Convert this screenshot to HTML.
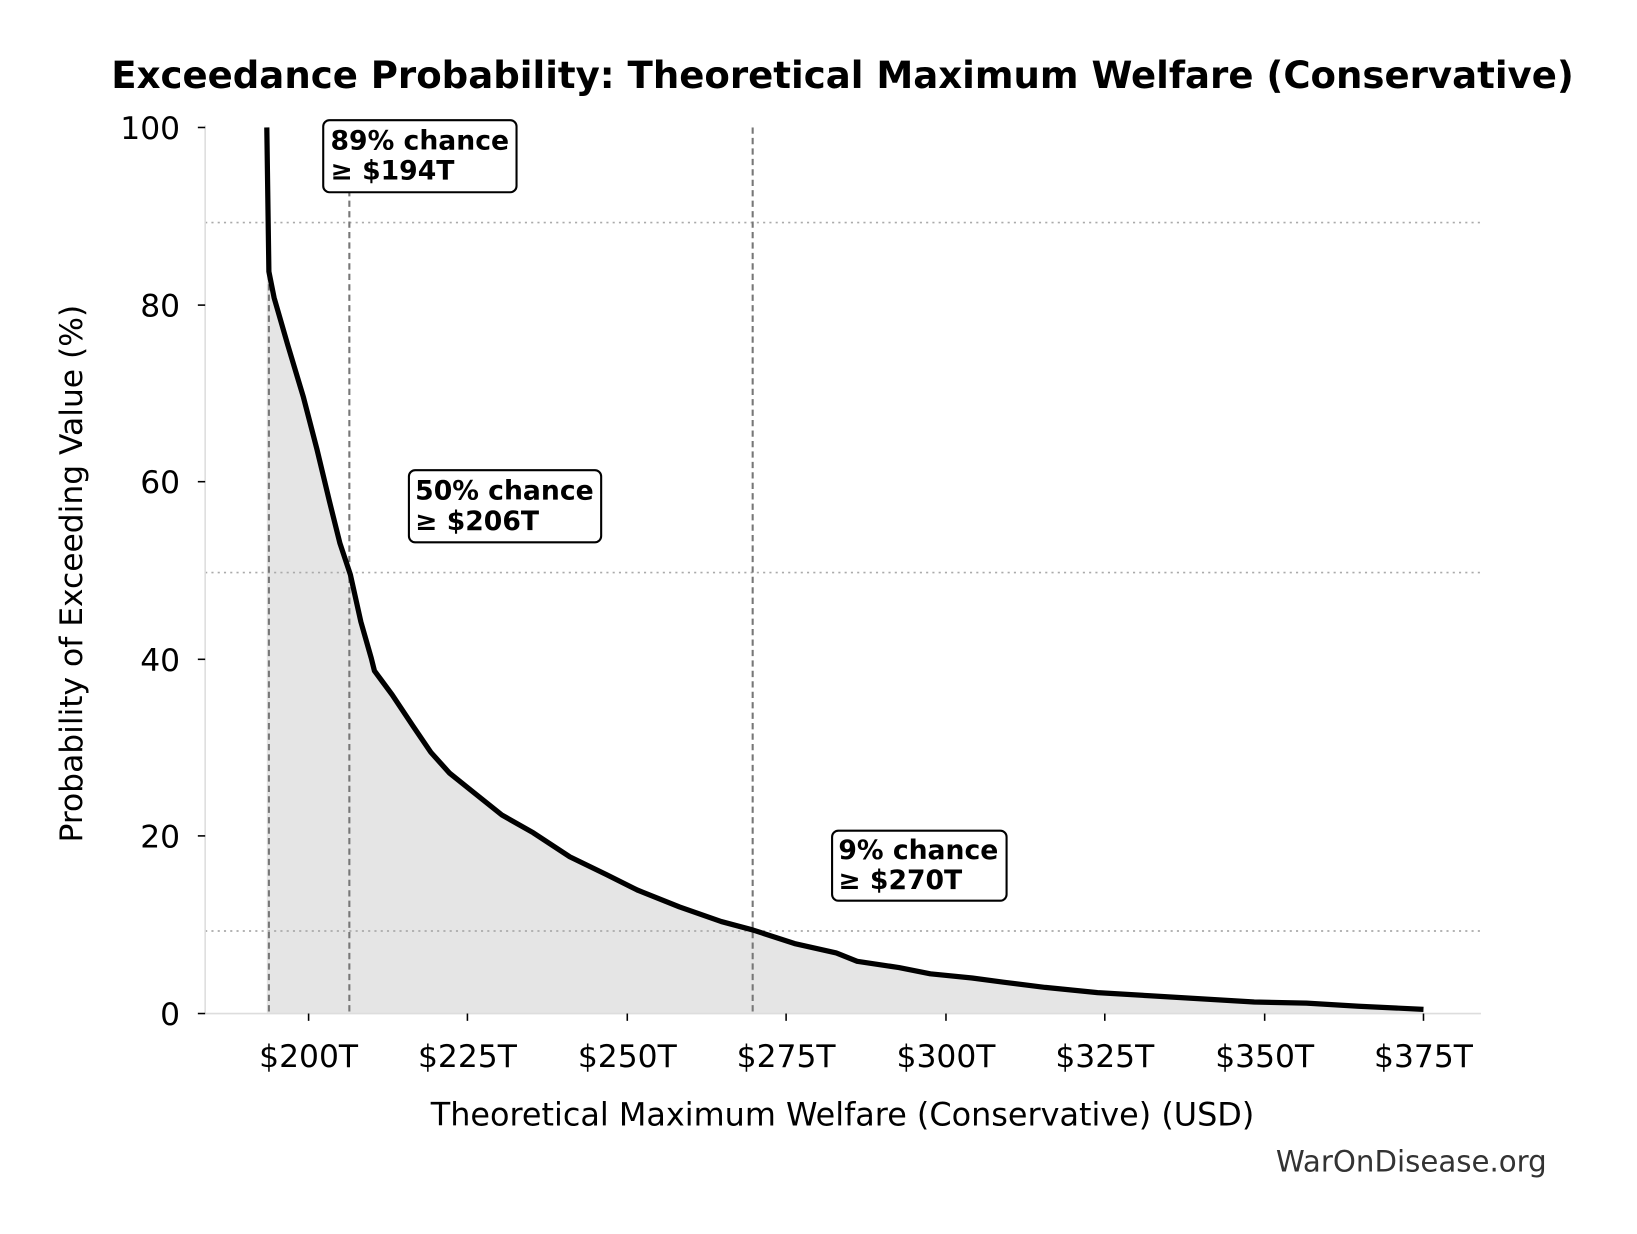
<!DOCTYPE html>
<html><head><meta charset="utf-8"><style>html,body{margin:0;padding:0;background:#fff;}svg{display:block;}</style></head>
<body>
<svg width="1637" height="1234" viewBox="0 0 1566 1181" xmlns="http://www.w3.org/2000/svg" font-family="DejaVu Sans, Liberation Sans, sans-serif">
<rect width="1566" height="1181" fill="#fff"/>
<text x="806" y="84" text-anchor="middle" font-size="35.5" font-weight="bold">Exceedance Probability: Theoretical Maximum Welfare (Conservative)</text>
<path d="M255,122 L257,260 L262,285 L275,330 L290,380 L303,430 L315,480 L325,520 L335,550 L345,595 L355,630 L358,642 L375,665 L395,695 L412,720 L430,740 L455,760 L480,780 L510,797 L545,820 L580,837 L610,852 L650,868 L690,882 L720,890 L760,903 L800,912 L820,920 L860,926 L890,932 L930,936 L960,940 L1000,945 L1050,950 L1100,953 L1150,956 L1200,959 L1250,960 L1300,963 L1362,966 L1362,970 L255,970 Z" fill="#e5e5e5"/>
<g stroke="#aaa" stroke-width="1.6" stroke-dasharray="2,4">
<line x1="196" y1="213" x2="1417" y2="213"/>
<line x1="196" y1="548" x2="1417" y2="548"/>
<line x1="196" y1="891" x2="1417" y2="891"/>
</g>
<g stroke="#777" stroke-width="2" stroke-dasharray="6,4">
<line x1="257" y1="262" x2="257" y2="970"/>
<line x1="334" y1="122" x2="334" y2="970"/>
<line x1="720" y1="122" x2="720" y2="970"/>
</g>
<line x1="196" y1="120" x2="196" y2="970" stroke="#ddd" stroke-width="1.5"/>
<line x1="196" y1="970" x2="1417" y2="970" stroke="#ddd" stroke-width="1.5"/>
<g stroke="#000" stroke-width="1.5">
<line x1="189" y1="122" x2="196" y2="122"/><line x1="189" y1="292" x2="196" y2="292"/><line x1="189" y1="461" x2="196" y2="461"/><line x1="189" y1="631" x2="196" y2="631"/><line x1="189" y1="800" x2="196" y2="800"/><line x1="189" y1="970" x2="196" y2="970"/>
<line x1="295" y1="970" x2="295" y2="977"/><line x1="447" y1="970" x2="447" y2="977"/><line x1="600" y1="970" x2="600" y2="977"/><line x1="752" y1="970" x2="752" y2="977"/><line x1="905" y1="970" x2="905" y2="977"/><line x1="1057" y1="970" x2="1057" y2="977"/><line x1="1210" y1="970" x2="1210" y2="977"/><line x1="1362" y1="970" x2="1362" y2="977"/>
</g>
<g font-size="30" text-anchor="end">
<text x="172" y="133">100</text><text x="172" y="303">80</text><text x="172" y="472">60</text><text x="172" y="642">40</text><text x="172" y="811">20</text><text x="172" y="981">0</text>
</g>
<g font-size="30" text-anchor="middle">
<text x="295" y="1021">$200T</text><text x="447" y="1021">$225T</text><text x="600" y="1021">$250T</text><text x="752" y="1021">$275T</text><text x="905" y="1021">$300T</text><text x="1057" y="1021">$325T</text><text x="1210" y="1021">$350T</text><text x="1362" y="1021">$375T</text>
</g>
<text x="806" y="1077" text-anchor="middle" font-size="30.5">Theoretical Maximum Welfare (Conservative) (USD)</text>
<text transform="translate(78,549) rotate(-90)" text-anchor="middle" font-size="30">Probability of Exceeding Value (%)</text>
<text x="1480" y="1121" text-anchor="end" font-size="28" fill="#333">WarOnDisease.org</text>
<path d="M255,122 L257,260 L262,285 L275,330 L290,380 L303,430 L315,480 L325,520 L335,550 L345,595 L355,630 L358,642 L375,665 L395,695 L412,720 L430,740 L455,760 L480,780 L510,797 L545,820 L580,837 L610,852 L650,868 L690,882 L720,890 L760,903 L800,912 L820,920 L860,926 L890,932 L930,936 L960,940 L1000,945 L1050,950 L1100,953 L1150,956 L1200,959 L1250,960 L1300,963 L1362,966" fill="none" stroke="#000" stroke-width="5" stroke-linejoin="round"/>
<g font-size="25.5" font-weight="bold">
<rect x="309" y="115" width="185" height="69" rx="6" fill="#fff" stroke="#000" stroke-width="2"/>
<text x="316" y="143">89% chance</text><text x="316" y="172">≥ $194T</text>
<rect x="391" y="450" width="184" height="69" rx="6" fill="#fff" stroke="#000" stroke-width="2"/>
<text x="397" y="478">50% chance</text><text x="397" y="507">≥ $206T</text>
<rect x="796" y="795" width="167" height="67" rx="6" fill="#fff" stroke="#000" stroke-width="2"/>
<text x="802" y="822">9% chance</text><text x="802" y="851">≥ $270T</text>
</g>
</svg>
</body></html>
